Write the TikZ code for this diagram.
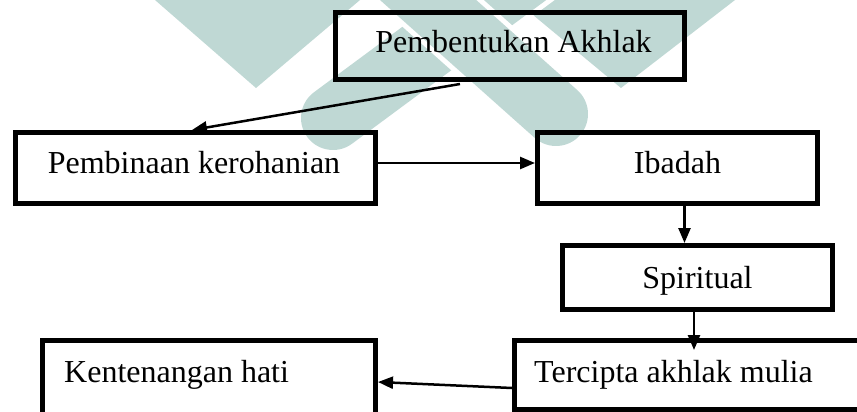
\documentclass[tikz,border=0pt]{standalone}
\usepackage{fontspec}
\setmainfont{Liberation Serif}
\usetikzlibrary{arrows.meta,calc}
\definecolor{wm}{RGB}{191,216,212}
\begin{document}
\begin{tikzpicture}[x=1pt,y=-1pt,
  box/.style={draw=black, line width=5pt, rectangle, inner sep=0pt, outer sep=0pt},
  lbl/.style={inner sep=0pt, font=\fontsize{32}{36}\selectfont, text=black},
  arr/.style={draw=black, line width=2.5pt, -{Triangle[length=15pt,width=12pt]}},
  wmband/.style={draw=wm, line width=64pt, line cap=round},
  wmgap/.style={draw=white, line width=74pt, line cap=round}]
\clip (0,0) rectangle (857,412);
% watermark
\fill[wm] (155,0) -- (360,0) -- (256,88) -- cycle;
\fill[wm] (515,0) -- (735,0) -- (621,88) -- cycle;
\draw[wmgap] (560,-50) -- (333,118);
\draw[wmband] (560,-50) -- (333,118);
\draw[wmgap] (372,-50) -- (556,114);
\draw[wmband] (372,-50) -- (556,114);
% boxes
\node[box, minimum width=349pt, minimum height=67pt] (top) at (510,46) {};
\node[box, minimum width=360pt, minimum height=71pt] (pemb) at (195.5,168) {};
\node[box, minimum width=280pt, minimum height=71pt] (ibadah) at (677.5,168) {};
\node[box, minimum width=270pt, minimum height=64pt] (spir) at (697.5,277.5) {};
\node[box, minimum width=365.5pt, minimum height=69pt] (terc) at (697.25,375) {};
\node[box, minimum width=333pt, minimum height=99.5pt] (kent) at (209,390.25) {};
% labels
\node[lbl, anchor=base] (tTop) at (513.5,53) {Pembentukan Akhlak};
\node[lbl, anchor=base] (tPemb) at (194,173) {Pembinaan kerohanian};
\node[lbl, anchor=base] (tIb) at (677.5,173) {Ibadah};
\node[lbl, anchor=base] (tSp) at (697.5,288) {Spiritual};
\node[lbl, anchor=base west] (tTer) at (534,382) {Tercipta akhlak mulia};
\node[lbl, anchor=base west] (tKen) at (64,382) {Kentenangan hati};
% connectors
\draw[arr] ($(top.south)+(-50,4.5)$) -- ($(pemb.north)+(-3.5,-2.5)$);
\draw[arr] ($(pemb.east)+(2.5,-5)$) -- ($(ibadah.west)+(-2.5,-5)$);
\draw[arr] ($(ibadah.south)+(7,2.5)$) -- ($(spir.north)+(-13,-2.5)$);
\draw[arr] ($(spir.south)+(-3.5,2.5)$) -- ($(terc.north)+(-3.25,9.5)$);
\draw[arr] ($(terc.west)+(-2.5,13)$) -- ($(kent.east)+(2.5,-8.25)$);
\end{tikzpicture}
\end{document}
